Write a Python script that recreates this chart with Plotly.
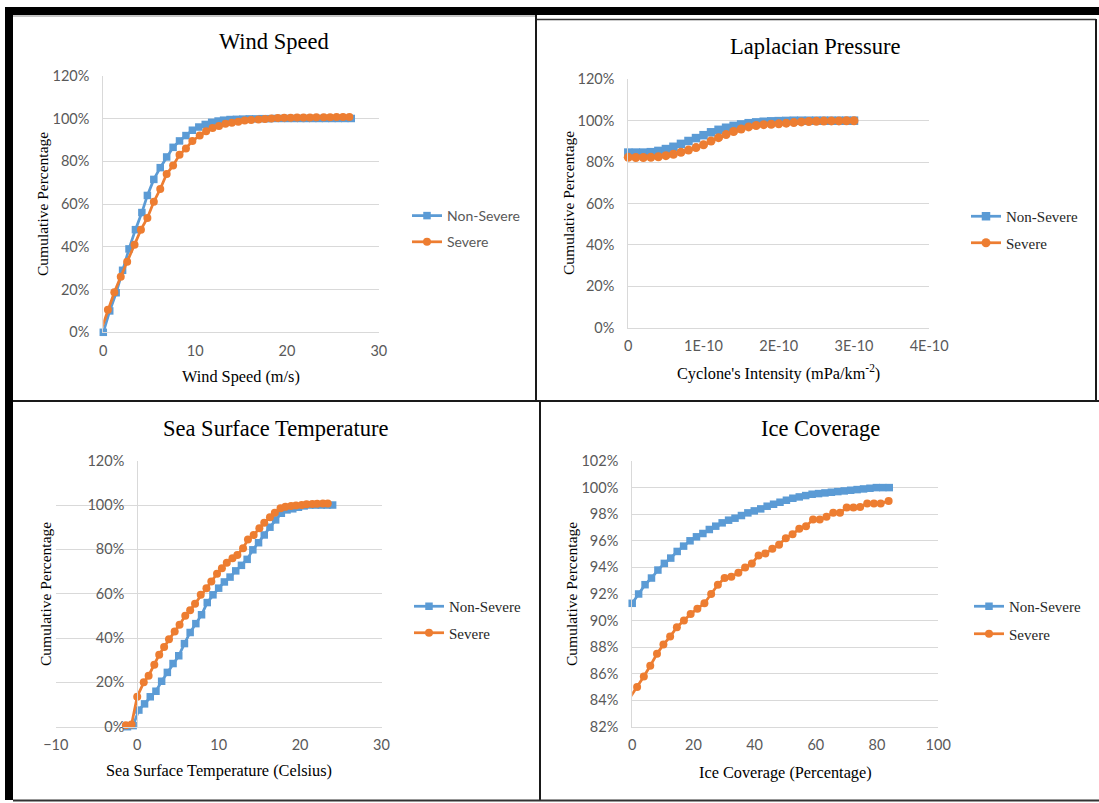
import plotly.graph_objects as go

W, H = 1099, 803
def X(px): return px / W
def Y(py): return 1 - py / H

BLUE = "#5B9BD5"
ORANGE = "#ED7D31"
GRID = "#D9D9D9"
TICK = "#595959"
SERIF = "Liberation Serif, Times New Roman, serif"
SANS = "Lato, Carlito, Calibri, sans-serif"

# ---------------- data ----------------
wind_ns_x = [0.0, 0.7, 1.4, 2.1, 2.8, 3.5, 4.2, 4.8, 5.5, 6.2, 6.9, 7.6, 8.3, 9.0, 9.7, 10.4, 11.1, 11.8,
             12.5, 13.1, 13.8, 14.5, 15.2, 15.9, 16.6, 17.3, 18.0, 18.7, 19.4, 20.1, 20.8, 21.5, 22.1,
             22.8, 23.5, 24.2, 24.9, 25.6, 26.3, 27.0]
wind_ns_y = [0, 10, 18.5, 29, 39, 48, 56, 64, 71.5, 77, 82, 86.5, 89.5, 92, 94.5, 96, 97.2, 98.2, 98.8,
             99.2, 99.5, 99.6, 99.7, 99.8, 99.8, 99.9, 99.9, 100, 100, 100, 100, 100, 100, 100, 100, 100,
             100, 100, 100, 100]
wind_s_x = [-0.2, 0.5, 1.2, 1.9, 2.6, 3.4, 4.1, 4.8, 5.5, 6.2, 6.9, 7.6, 8.3, 9.0, 9.7, 10.5, 11.2, 11.9,
            12.6, 13.3, 14.0, 14.7, 15.4, 16.1, 16.9, 17.6, 18.3, 19.0, 19.7, 20.4, 21.1, 21.8, 22.5,
            23.2, 24.0, 24.7, 25.4, 26.1, 26.8]
wind_s_y = [1.5, 10.5, 18.7, 26, 33, 41, 48, 53.5, 61, 67, 74, 78, 83, 86, 89.5, 92, 94, 95.5, 96.5, 97.5,
            98, 98.5, 99, 99.3, 99.5, 99.8, 100, 100.2, 100.3, 100.3, 100.4, 100.4, 100.5, 100.6, 100.6,
            100.6, 100.7, 100.7, 100.7]

lap_x = [0.0, 1.0e-11, 2.0e-11, 3.0e-11, 4.0e-11, 5.0e-11, 6.0e-11, 7.0e-11, 8.0e-11, 9.0e-11,
         1.0e-10, 1.1e-10, 1.2e-10, 1.3e-10, 1.4e-10, 1.5e-10, 1.6e-10, 1.7e-10, 1.8e-10, 1.9e-10,
         2.0e-10, 2.1e-10, 2.2e-10, 2.3e-10, 2.4e-10, 2.5e-10, 2.6e-10, 2.7e-10, 2.8e-10, 2.9e-10, 3.0e-10]
lap_ns_y = [84.6, 84.6, 84.6, 84.8, 85.4, 86.3, 87.4, 88.8, 90.2, 91.6, 93.0, 94.4, 95.6, 96.6, 97.5,
            98.2, 98.8, 99.2, 99.5, 99.7, 99.8, 99.9, 100, 100, 100, 100, 100, 100, 100, 100, 100]
lap_s_y = [82.3, 82.2, 82.2, 82.3, 82.6, 83.1, 83.8, 84.7, 85.8, 87.0, 88.4, 90.2, 91.8, 93.3, 94.8,
           96.0, 97.0, 97.7, 98.1, 98.3, 98.5, 98.8, 99.1, 99.4, 99.6, 99.7, 99.8, 99.9, 99.9, 100, 100]
lap_tickvals = [0, 1e-10, 2e-10, 3e-10, 4e-10]
lap_ticktext = ["0", "1E-10", "2E-10", "3E-10", "4E-10"]

sst_ns_x = [-1.2, -0.5, 0.2, 0.9, 1.6, 2.3, 3.0, 3.7, 4.4, 5.1, 5.8, 6.5, 7.2, 7.9, 8.6, 9.3, 10.0, 10.7,
            11.4, 12.1, 12.8, 13.5, 14.2, 14.9, 15.6, 16.3, 17.0, 17.7, 18.4, 19.1, 19.8, 20.5, 21.2,
            21.9, 22.6, 23.3, 24.0]
sst_ns_y = [0, 0.5, 7.5, 10.3, 13.5, 16, 20.5, 24.5, 28.5, 32, 37.5, 42.5, 46.5, 50.5, 56, 59.5, 62.5,
            65.3, 67.5, 70.3, 72.8, 75.5, 79.8, 83, 86.5, 90, 93.3, 96.3, 97.8, 98.3, 99, 99.6, 100, 100,
            100, 100, 100]
sst_s_x = [-1.4, -0.7, 0.0, 0.8, 1.4, 2.1, 2.7, 3.3, 3.9, 4.6, 5.2, 5.9, 6.5, 7.1, 7.8, 8.5, 9.1, 9.8,
           10.4, 11.0, 11.7, 12.3, 13.0, 13.6, 14.3, 15.0, 15.6, 16.3, 16.9, 17.6, 18.2, 18.9, 19.5,
           20.2, 20.8, 21.5, 22.1, 22.8, 23.4]
sst_s_y = [0.7, 1, 13.5, 20, 23, 28, 32.5, 36, 39.5, 43, 46, 50, 52.5, 55.5, 59.5, 62.5, 65.5, 69, 71.5,
           74, 76, 77.5, 80.5, 84.5, 86.5, 89.5, 92, 94.5, 96.5, 98.5, 99.2, 99.6, 99.8, 100, 100.3,
           100.5, 100.6, 100.7, 100.7]

ice_ns_x = [0, 2.1, 4.2, 6.3, 8.4, 10.5, 12.6, 14.7, 16.8, 18.9, 21.0, 23.1, 25.2, 27.3, 29.4, 31.5,
            33.6, 35.7, 37.8, 39.9, 42.0, 44.1, 46.2, 48.3, 50.4, 52.5, 54.6, 56.7, 58.8, 60.9, 63.0,
            65.1, 67.2, 69.3, 71.4, 73.5, 75.6, 77.7, 79.8, 81.9, 84.0]
ice_ns_y = [91.3, 92.0, 92.7, 93.2, 93.8, 94.3, 94.7, 95.2, 95.6, 96.0, 96.3, 96.55, 96.85, 97.1, 97.35,
            97.55, 97.7, 97.9, 98.1, 98.25, 98.4, 98.6, 98.75, 98.9, 99.05, 99.2, 99.3, 99.4, 99.5,
            99.55, 99.6, 99.65, 99.7, 99.75, 99.8, 99.85, 99.9, 99.95, 100, 100, 100]
ice_s_x = [-0.5, 1.6, 3.8, 5.9, 8.1, 10.2, 12.4, 14.6, 16.9, 19.1, 21.3, 23.6, 25.8, 28.0, 30.2, 32.4,
           34.7, 36.9, 39.1, 41.3, 43.5, 45.8, 48.0, 50.2, 52.4, 54.6, 56.8, 59.1, 61.3, 63.5, 65.7,
           67.9, 70.1, 72.3, 74.5, 76.8, 79.0, 81.2, 83.8]
ice_s_y = [84.3, 85.0, 85.8, 86.6, 87.5, 88.2, 88.8, 89.5, 90.0, 90.5, 90.9, 91.3, 92.0, 92.7, 93.2,
           93.3, 93.6, 94.0, 94.3, 94.9, 95.05, 95.4, 95.7, 96.2, 96.5, 96.9, 97.1, 97.6, 97.6, 97.8,
           98.1, 98.1, 98.5, 98.5, 98.55, 98.8, 98.8, 98.8, 99.0]

series_names = ["Non-Severe", "Severe"]

# ---------------- layout geometry (px) ----------------
panels = [
    dict(title="Wind Speed", xt="Wind Speed (m/s)", xd=(103.3, 378.8), yd=(75.7, 332.3),
         tc=(274, 42), xtc=(241, 376), ytc=(42, 204), leg=(407, 200), legfont=SANS, legsize=14,
         legcolor=TICK, gap=5, msize=7.5),
    dict(title="Laplacian Pressure", xt="Cyclone's Intensity (mPa/km<sup>-2</sup>)", xd=(628.3, 929.2),
         yd=(79.3, 327.7), tc=(815, 46), xtc=(778, 372), ytc=(568, 203), leg=(966, 200), legfont=SERIF,
         legsize=15, legcolor="#262626", gap=4, msize=8.5),
    dict(title="Sea Surface Temperature", xt="Sea Surface Temperature (Celsius)", xd=(55.8, 381.5),
         yd=(460.7, 726.7), tc=(275, 428), xtc=(219, 770), ytc=(45, 594), leg=(409, 590), legfont=SERIF,
         legsize=15, legcolor="#262626", gap=4, msize=7.5),
    dict(title="Ice Coverage", xt="Ice Coverage (Percentage)", xd=(632.2, 938.2), yd=(461, 727),
         tc=(820, 428), xtc=(785, 772), ytc=(571, 594), leg=(969, 590), legfont=SERIF, legsize=15,
         legcolor="#262626", gap=5, msize=7.5),
]

data = [
    (wind_ns_x, wind_ns_y, wind_s_x, wind_s_y),
    (lap_x, lap_ns_y, lap_x, lap_s_y),
    (sst_ns_x, sst_ns_y, sst_s_x, sst_s_y),
    (ice_ns_x, ice_ns_y, ice_s_x, ice_s_y),
]

fig = go.Figure()
layout = dict(width=W, height=H, margin=dict(l=0, r=0, t=0, b=0, pad=0, autoexpand=False),
              paper_bgcolor="white", plot_bgcolor="white", showlegend=True)
annotations = []

for i, (p, d) in enumerate(zip(panels, data)):
    n = i + 1
    xa = "x" if n == 1 else f"x{n}"
    ya = "y" if n == 1 else f"y{n}"
    legname = "legend" if n == 1 else f"legend{n}"
    nsx, nsy, sx, sy = d
    fig.add_trace(go.Scatter(x=nsx, y=nsy, mode="lines+markers", name=series_names[0], xaxis=xa, yaxis=ya,
                             line=dict(color=BLUE, width=2.75),
                             marker=dict(symbol="square", size=p["msize"], color=BLUE),
                             legend=legname, legendgroup=f"ns{n}", cliponaxis=False))
    fig.add_trace(go.Scatter(x=sx, y=sy, mode="lines+markers", name=series_names[1], xaxis=xa, yaxis=ya,
                             line=dict(color=ORANGE, width=2.75),
                             marker=dict(symbol="circle", size=p["msize"] + 0.5, color=ORANGE),
                             legend=legname, legendgroup=f"s{n}", cliponaxis=False))

    xkey = "xaxis" if n == 1 else f"xaxis{n}"
    ykey = "yaxis" if n == 1 else f"yaxis{n}"
    xax = dict(domain=[X(p["xd"][0]), X(p["xd"][1])], anchor=ya, showgrid=False, zeroline=False,
               showline=True, linecolor=GRID, linewidth=1, ticks="", automargin=False,
               tickfont=dict(family=SANS, size=14.5, color=TICK), ticklabelstandoff=5)
    yax = dict(domain=[Y(p["yd"][1]), Y(p["yd"][0])], anchor=xa, showgrid=True, gridcolor=GRID, gridwidth=1,
               zeroline=False, showline=True, linecolor=GRID, linewidth=1, ticks="", ticksuffix="%",
               automargin=False, tickfont=dict(family=SANS, size=14.5, color=TICK), ticklabelstandoff=10)
    if n == 1:
        xax.update(range=[0, 30], dtick=10, tick0=0)
        yax.update(range=[0, 120], dtick=20, tick0=0)
    elif n == 2:
        xax.update(range=[0, 4e-10], tickvals=lap_tickvals, ticktext=lap_ticktext)
        yax.update(range=[0, 120], dtick=20, tick0=0)
    elif n == 3:
        xax.update(range=[-10, 30], dtick=10, tick0=0)
        yax.update(range=[0, 120], dtick=20, tick0=0, anchor="free",
                   position=X(p["xd"][0] + (p["xd"][1] - p["xd"][0]) * 10 / 40))
    else:
        xax.update(range=[0, 100], dtick=20, tick0=0)
        yax.update(range=[82, 102], dtick=2, tick0=82)
    layout[xkey] = xax
    layout[ykey] = yax

    layout[legname] = dict(x=X(p["leg"][0]), y=Y(p["leg"][1]), xanchor="left", yanchor="top",
                           bgcolor="rgba(0,0,0,0)", tracegroupgap=p["gap"],
                           font=dict(family=p["legfont"], size=p["legsize"], color=p["legcolor"]))

    annotations.append(dict(text=p["title"], x=X(p["tc"][0]), y=Y(p["tc"][1]), xref="paper", yref="paper",
                            xanchor="center", yanchor="middle", showarrow=False,
                            font=dict(family=SERIF, size=22.5, color="#000000")))
    annotations.append(dict(text=p["xt"], x=X(p["xtc"][0]), y=Y(p["xtc"][1]), xref="paper", yref="paper",
                            xanchor="center", yanchor="middle", showarrow=False,
                            font=dict(family=SERIF, size=16.3, color="#000000")))
    annotations.append(dict(text="Cumulative Percentage", x=X(p["ytc"][0]), y=Y(p["ytc"][1]), xref="paper",
                            yref="paper", xanchor="center", yanchor="middle", showarrow=False, textangle=-90,
                            font=dict(family=SERIF, size=15.5, color="#000000")))

layout["annotations"] = annotations

def rect(x0, y0, x1, y1, color="black"):
    return dict(type="rect", xref="paper", yref="paper", x0=X(x0), x1=X(x1), y0=Y(y1), y1=Y(y0),
                fillcolor=color, line=dict(width=0), layer="above")

def line(x0, y0, x1, y1, color="#1a1a1a", width=2):
    return dict(type="line", xref="paper", yref="paper", x0=X(x0), x1=X(x1), y0=Y(y0), y1=Y(y1),
                line=dict(color=color, width=width), layer="above")

layout["shapes"] = [
    rect(5, 7, 1099, 15),
    rect(5, 7, 13, 800),
    line(13, 16, 536, 16, color="#8c8c8c", width=1),
    line(536, 15, 536, 401),
    line(537, 19.5, 1096, 19.5, color="#333333", width=1.5),
    line(1096, 19, 1096, 401),
    line(13, 401, 1099, 401),
    line(540, 401, 540, 800),
    line(13, 800.5, 1099, 800.5, color="#333333", width=2),
]

fig.update_layout(**layout)
fig.write_html("out.html",
               post_script="document.body.style.margin='0';document.body.style.padding='0';"
                           "document.body.style.overflow='hidden';")
